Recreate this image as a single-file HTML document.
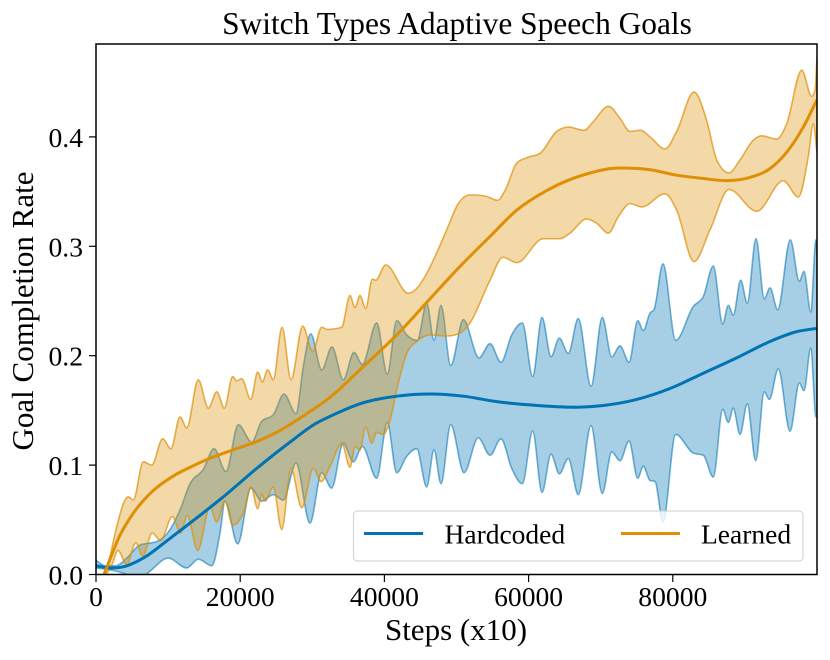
<!DOCTYPE html>
<html lang="en">
<head>
<meta charset="utf-8">
<title>Switch Types Adaptive Speech Goals</title>
<style>
html,body{margin:0;padding:0;background:#fff;}
svg{display:block;}
text{font-family:"Liberation Serif",serif;fill:#000;}
</style>
</head>
<body>
<svg id="chart" xmlns="http://www.w3.org/2000/svg" width="830" height="660" viewBox="0 0 830 660">
  <defs>
    <clipPath id="plot-clip"><rect x="96" y="44" width="721" height="530.5"/></clipPath>
  </defs>
  <rect x="0" y="0" width="830" height="660" fill="#fff"/>
  <g id="marks" clip-path="url(#plot-clip)"></g>
  <g id="ticks"></g>
  <rect x="96" y="44" width="721" height="530.5" fill="none" stroke="#000" stroke-width="1.5"/>
  <g>
    <rect x="353.5" y="511" width="449.5" height="50" rx="4" ry="4" fill="#fff" fill-opacity="0.8" stroke="#ccc" stroke-opacity="0.8" stroke-width="1.2"/>
    <line x1="364" y1="533.5" x2="423" y2="533.5" stroke="#0173b2" stroke-width="3"/>
    <text x="444.5" y="543.5" font-size="27.5">Hardcoded</text>
    <line x1="621" y1="533.5" x2="680" y2="533.5" stroke="#de8f05" stroke-width="3"/>
    <text x="701" y="543.5" font-size="27.5">Learned</text>
  </g>
  <text x="457" y="34" font-size="31.4" text-anchor="middle">Switch Types Adaptive Speech Goals</text>
  <text x="456" y="640" font-size="31" text-anchor="middle">Steps (x10)</text>
  <text transform="translate(33,311) rotate(-90)" font-size="31" text-anchor="middle">Goal Completion Rate</text>
</svg>
<script>
const xTickValues = [0, 20000, 40000, 60000, 80000];
const xTickLabels = ["0", "20000", "40000", "60000", "80000"];
const yTickValues = [0, 0.1, 0.2, 0.3, 0.4];
const yTickLabels = ["0.0", "0.1", "0.2", "0.3", "0.4"];

const hardcodedMean = [[0,.008],[2000,.006],[3790,.007],[6560,.015],[10260,.033],[13040,.047],[17660,.071],[22290,.097],[26910,.121],[30610,.1385],[32460,.1445],[37070,.157],[41710,.163],[46330,.165],[50950,.163],[55580,.158],[60200,.155],[67130,.153],[70360,.1545],[74990,.160],[79610,.170],[84230,.184],[88860,.198],[93480,.213],[97190,.222],[100000,.225]];

const hardcodedUpper = [[0,.013],[1250,.008],[2770,.008],[4260,.015],[6100,.027],[8420,.030],[10260,.041],[11650,.059],[13040,.083],[14880,.096],[16370,.115],[18030,.094],[19740,.137],[21600,.121],[22980,.140],[24590,.146],[26080,.165],[27740,.147],[28750,.190],[29780,.220],[31300,.187],[32730,.208],[34300,.178],[35780,.203],[36940,.192],[38930,.230],[40400,.183],[41710,.232],[43090,.219],[44560,.214],[45870,.248],[46880,.214],[47850,.246],[49200,.191],[50950,.233],[53120,.198],[54650,.211],[56170,.194],[57660,.219],[59130,.230],[60570,.181],[61860,.235],[63110,.199],[64260,.216],[65510,.202],[66890,.234],[68660,.172],[70220,.235],[71530,.199],[72680,.209],[73930,.194],[75130,.232],[75910,.223],[76840,.239],[77390,.242],[78640,.284],[80400,.214],[82840,.245],[84230,.254],[85620,.282],[86920,.229],[87700,.246],[88390,.237],[89420,.269],[90330,.248],[91540,.307],[92690,.252],[93480,.262],[94550,.242],[96300,.306],[97550,.268],[98200,.277],[99130,.240],[99860,.306],[100000,.288]];

const hardcodedLower = [[0,.006],[1250,.005],[2870,.003],[4300,.000],[5700,-.004],[6930,.000],[7490,.003],[10030,.015],[12580,.006],[14190,.014],[16050,.008],[17200,.038],[17890,.067],[19650,.028],[21500,.079],[22980,.067],[24590,.073],[25980,.068],[27740,.102],[29680,.047],[31300,.093],[32690,.079],[34300,.120],[35690,.103],[36940,.117],[38930,.088],[40400,.139],[41710,.093],[43090,.108],[44480,.115],[45870,.080],[46880,.114],[47850,.083],[49200,.137],[51040,.093],[53020,.125],[54650,.109],[56170,.124],[57660,.097],[59130,.083],[60570,.131],[61860,.075],[63110,.110],[64260,.092],[65510,.106],[66890,.073],[68660,.136],[70220,.074],[71530,.112],[72680,.104],[73930,.122],[75130,.088],[75910,.099],[76840,.086],[77530,.085],[78640,.048],[80400,.128],[82840,.111],[84230,.109],[85620,.089],[86920,.151],[87700,.139],[88390,.152],[89320,.128],[90330,.156],[91500,.104],[92690,.167],[93390,.160],[94630,.188],[96260,.131],[97550,.175],[98200,.168],[99130,.207],[99860,.144],[100000,.144]];

const learnedMean = [[1110,0],[3330,.036],[5170,.056],[7490,.074],[10720,.090],[13040,.098],[15350,.105],[19040,.114],[22290,.1215],[25060,.130],[29220,.147],[32460,.162],[37070,.190],[41710,.219],[46330,.252],[50250,.280],[54650,.309],[58350,.333],[62510,.351],[65740,.361],[68520,.367],[71290,.371],[73610,.3715],[76840,.370],[80540,.365],[84230,.362],[87480,.360],[90710,.363],[93480,.371],[95800,.386],[98100,.409],[100000,.434]];

const learnedUpper = [[1110,0],[1660,.009],[2770,.041],[4020,.068],[4480,.071],[5170,.068],[6560,.103],[7730,.100],[9250,.124],[10400,.115],[11650,.144],[12580,.134],[14190,.178],[15580,.152],[16740,.167],[17800,.152],[18960,.181],[19510,.177],[20210,.179],[21460,.160],[22430,.185],[23070,.176],[23810,.187],[24590,.178],[25800,.226],[27050,.178],[28670,.227],[30060,.204],[31300,.226],[32080,.224],[34080,.226],[35230,.255],[35920,.244],[36620,.255],[37410,.243],[38320,.270],[38790,.269],[40180,.283],[43320,.257],[44700,.263],[46090,.278],[48640,.315],[50250,.339],[51870,.347],[53950,.346],[55710,.342],[56730,.351],[58350,.376],[59740,.381],[61580,.385],[63900,.405],[65510,.409],[67690,.406],[68980,.414],[71060,.428],[72680,.417],[74070,.405],[75550,.406],[76840,.400],[78920,.389],[80540,.405],[82940,.441],[84700,.415],[86090,.379],[87800,.367],[89320,.379],[91170,.397],[92330,.401],[94410,.398],[95800,.412],[97880,.461],[99270,.437],[99730,.443],[100000,.473]];

const learnedLower = [[1110,0],[1480,.001],[2220,.009],[3050,.022],[4260,.009],[5510,.029],[6480,.017],[7810,.038],[8970,.031],[10580,.053],[11750,.038],[12660,.054],[14110,.022],[15810,.062],[16740,.048],[17890,.067],[18960,.045],[20430,.056],[21500,.080],[22430,.060],[22980,.074],[23440,.067],[24590,.080],[25760,.041],[27050,.097],[28530,.061],[30140,.097],[31210,.085],[32460,.099],[34080,.120],[35230,.098],[35920,.117],[36620,.114],[37410,.135],[38240,.120],[38930,.130],[39850,.128],[40780,.141],[41710,.169],[43090,.202],[44480,.213],[46330,.219],[48640,.218],[50250,.220],[51870,.230],[54650,.269],[56450,.290],[58350,.285],[62040,.307],[64360,.307],[65740,.312],[68050,.325],[69440,.321],[71060,.312],[72440,.327],[74070,.339],[75690,.336],[78920,.348],[80540,.333],[82940,.286],[85160,.315],[87800,.352],[91640,.332],[95330,.360],[97410,.345],[98790,.382],[99490,.412],[100000,.385]];

const NS = "http://www.w3.org/2000/svg";

function xScale(step) { return 96 + (step / 100000) * 721; }
function yScale(value) { return 574.5 - value * 1094; }

function curveSegments(points, move, smooth) {
  const pts = points.map(function (p) { return [xScale(p[0]), yScale(p[1])]; });
  const n = pts.length;
  const slopes = [];
  for (let i = 0; i < n - 1; i++) {
    slopes.push((pts[i + 1][1] - pts[i][1]) / (pts[i + 1][0] - pts[i][0]));
  }
  const tangents = [];
  for (let i = 0; i < n; i++) {
    if (i === 0) { tangents.push(slopes[0]); continue; }
    if (i === n - 1) { tangents.push(slopes[n - 2]); continue; }
    const a = slopes[i - 1], b = slopes[i];
    const h0 = pts[i][0] - pts[i - 1][0], h1 = pts[i + 1][0] - pts[i][0];
    const p = (a * h1 + b * h0) / (h0 + h1);
    if (smooth) { tangents.push(p); continue; }
    if (a * b <= 0) { tangents.push(0); continue; }
    const sign = a > 0 ? 1 : -1;
    tangents.push(sign * Math.min(2 * Math.abs(a), 2 * Math.abs(b), Math.abs(p)));
  }
  let d = (move ? "M" : "L") + pts[0][0].toFixed(2) + " " + pts[0][1].toFixed(2);
  for (let i = 0; i < n - 1; i++) {
    const h = (pts[i + 1][0] - pts[i][0]) / 3;
    d += "C" + (pts[i][0] + h).toFixed(2) + " " + (pts[i][1] + tangents[i] * h).toFixed(2) +
      " " + (pts[i + 1][0] - h).toFixed(2) + " " + (pts[i + 1][1] - tangents[i + 1] * h).toFixed(2) +
      " " + pts[i + 1][0].toFixed(2) + " " + pts[i + 1][1].toFixed(2);
  }
  return d;
}

function bandPath(upper, lower) {
  const reversed = lower.slice().reverse();
  return curveSegments(upper, true, false) + curveSegments(reversed, false, false) + "Z";
}

const marks = document.getElementById("marks");
const ticks = document.getElementById("ticks");

const hardcodedBand = document.createElementNS(NS, "path");


hardcodedBand.setAttribute("d", bandPath(hardcodedUpper, hardcodedLower));
hardcodedBand.setAttribute("fill", "#0173b2");
hardcodedBand.setAttribute("fill-opacity", "0.35");
hardcodedBand.setAttribute("stroke", "#0173b2");
hardcodedBand.setAttribute("stroke-opacity", "0.55");
hardcodedBand.setAttribute("stroke-width", "1.6");
marks.appendChild(hardcodedBand);

const learnedBand = document.createElementNS(NS, "path");


learnedBand.setAttribute("d", bandPath(learnedUpper, learnedLower));
learnedBand.setAttribute("fill", "#de8f05");
learnedBand.setAttribute("fill-opacity", "0.35");
learnedBand.setAttribute("stroke", "#de8f05");
learnedBand.setAttribute("stroke-opacity", "0.7");
learnedBand.setAttribute("stroke-width", "1.6");
marks.appendChild(learnedBand);

const hardcodedLine = document.createElementNS(NS, "path");


hardcodedLine.setAttribute("d", curveSegments(hardcodedMean, true, true));
hardcodedLine.setAttribute("fill", "none");
hardcodedLine.setAttribute("stroke", "#0173b2");
hardcodedLine.setAttribute("stroke-width", "3");
marks.appendChild(hardcodedLine);

const learnedLine = document.createElementNS(NS, "path");


learnedLine.setAttribute("d", curveSegments(learnedMean, true, true));
learnedLine.setAttribute("fill", "none");
learnedLine.setAttribute("stroke", "#de8f05");
learnedLine.setAttribute("stroke-width", "3");
marks.appendChild(learnedLine);

xTickValues.forEach(function (value, i) {
  const mark = document.createElementNS(NS, "line");
  
  
  mark.setAttribute("x1", xScale(value));
  mark.setAttribute("x2", xScale(value));
  mark.setAttribute("y1", 574.5);
  mark.setAttribute("y2", 582);
  mark.setAttribute("stroke", "#000");
  mark.setAttribute("stroke-width", "1.2");
  ticks.appendChild(mark);
  const label = document.createElementNS(NS, "text");
  
  
  label.setAttribute("x", xScale(value));
  label.setAttribute("y", 606);
  label.setAttribute("font-size", "27.6");
  label.setAttribute("text-anchor", "middle");
  label.textContent = xTickLabels[i];
  ticks.appendChild(label);
});

yTickValues.forEach(function (value, i) {
  const mark = document.createElementNS(NS, "line");
  
  
  mark.setAttribute("x1", 89);
  mark.setAttribute("x2", 96);
  mark.setAttribute("y1", yScale(value));
  mark.setAttribute("y2", yScale(value));
  mark.setAttribute("stroke", "#000");
  mark.setAttribute("stroke-width", "1.2");
  ticks.appendChild(mark);
  const label = document.createElementNS(NS, "text");
  
  
  label.setAttribute("x", 83);
  label.setAttribute("y", yScale(value) + 10);
  label.setAttribute("font-size", "27.6");
  label.setAttribute("text-anchor", "end");
  label.textContent = yTickLabels[i];
  ticks.appendChild(label);
});
</script>
</body>
</html>
